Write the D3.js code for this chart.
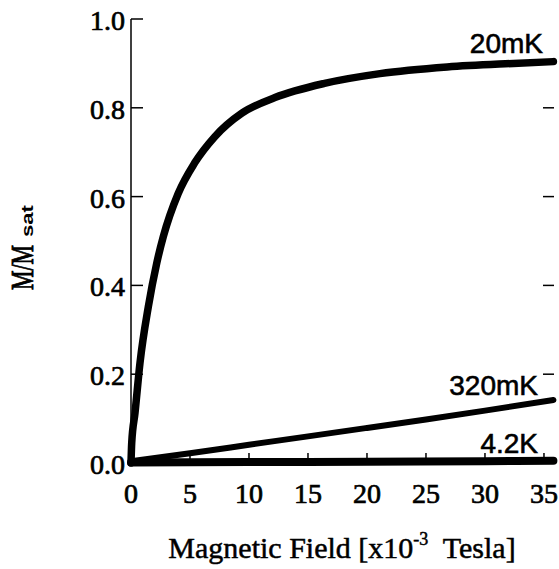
<!DOCTYPE html>
<html>
<head>
<meta charset="utf-8">
<script src="https://cdn.jsdelivr.net/npm/d3@7"></script>
<style>
  body { margin: 0; background: #fff; }
  svg { display: block; }
</style>
</head>
<body>
<div id="chart"></div>
<script>
// values (field in 1e-3 Tesla, M/Msat)
var field20mK = [0, 0.06, 0.34, 0.76, 1.47, 2.18, 2.74, 4.0, 5.4, 7.1, 9.4, 12.2, 16.4, 21.1, 26.8, 32.4, 35.8];
var mag20mK = [0, 0.045, 0.113, 0.225, 0.352, 0.45, 0.51, 0.607, 0.676, 0.735, 0.788, 0.823, 0.855, 0.877, 0.892, 0.9, 0.904];

var field320mK = [0, 5, 10, 15, 20, 25, 30, 35.8];
var mag320mK = [0.004, 0.022, 0.041, 0.06, 0.079, 0.098, 0.118, 0.142];

var field4K = [0, 10, 20, 30, 35.8];
var mag4K = [0.001, 0.002, 0.003, 0.004, 0.005];

var xTicks = [0, 5, 10, 15, 20, 25, 30, 35];
var yTicks = [0, 0.2, 0.4, 0.6, 0.8, 1.0];
var rightTicks = [0.2, 0.4, 0.6, 0.8];

var series = [
  { name: "20mK", x: field20mK, y: mag20mK, width: 7.5 },
  { name: "320mK", x: field320mK, y: mag320mK, width: 6 },
  { name: "4.2K", x: field4K, y: mag4K, width: 8 }
];

var width = 559, height = 569;
var serif = "'Liberation Serif', 'Times New Roman', serif";
var sans = "'Liberation Sans', Arial, sans-serif";

var svg = d3.select("#chart")
  .append("svg")
  .attr("width", width)
  .attr("height", height);

var x = d3.scaleLinear().domain([0, 35.85]).range([131, 554]);
var y = d3.scaleLinear().domain([0, 1]).range([463, 19]);

// left axis line + inward ticks
svg.append("line")
  .attr("x1", x(0)).attr("x2", x(0))
  .attr("y1", y(1)).attr("y2", y(0))
  .attr("stroke", "#000").attr("stroke-width", 1.5);

svg.selectAll(".ytick").data(yTicks).enter()
  .append("line")
  .attr("x1", x(0)).attr("x2", x(0) + 12)
  .attr("y1", function (d) { return y(d); })
  .attr("y2", function (d) { return y(d); })
  .attr("stroke", "#000").attr("stroke-width", 1.5);

// scanned text looks heavy, a thin stroke thickens the glyphs a bit
function heavy(sel, w) {
  sel.attr("stroke", "#000").attr("stroke-width", w).attr("fill", "#000");
}

svg.selectAll(".ylab").data(yTicks).enter()
  .append("text")
  .attr("x", 125)
  .attr("y", function (d) { return y(d) + 11; })
  .attr("text-anchor", "end")
  .style("font-family", serif)
  .style("font-size", "28px")
  .call(heavy, 0.7)
  .text(function (d) { return d.toFixed(1); });

// right side ticks (no axis line visible)
svg.selectAll(".rtick").data(rightTicks).enter()
  .append("line")
  .attr("x1", x.range()[1] - 11).attr("x2", x.range()[1])
  .attr("y1", function (d) { return y(d); })
  .attr("y2", function (d) { return y(d); })
  .attr("stroke", "#000").attr("stroke-width", 1.5);

// bottom axis
svg.append("line")
  .attr("x1", x(0)).attr("x2", x.range()[1])
  .attr("y1", y(0)).attr("y2", y(0))
  .attr("stroke", "#000").attr("stroke-width", 1.5);

svg.selectAll(".xtick").data(xTicks).enter()
  .append("line")
  .attr("x1", function (d) { return x(d); })
  .attr("x2", function (d) { return x(d); })
  .attr("y1", y(0)).attr("y2", y(0) - 10)
  .attr("stroke", "#000").attr("stroke-width", 1.5);

svg.selectAll(".xlab").data(xTicks).enter()
  .append("text")
  .attr("x", function (d) { return x(d); })
  .attr("y", 503)
  .attr("text-anchor", "middle")
  .style("font-family", serif)
  .style("font-size", "28px")
  .call(heavy, 0.7)
  .text(function (d) { return d; });

// curves
var line = d3.line()
  .x(function (d) { return x(d[0]); })
  .y(function (d) { return y(d[1]); })
  .curve(d3.curveMonotoneX);

series.forEach(function (s) {
  var pts = s.x.map(function (v, i) { return [v, s.y[i]]; });
  svg.append("path")
    .datum(pts)
    .attr("d", line)
    .attr("fill", "none")
    .attr("stroke", "#000")
    .attr("stroke-width", s.width)
    .attr("stroke-linecap", "round")
    .attr("stroke-linejoin", "round");
});

// curve labels
var labels = [
  { text: "20mK", x: 543, y: 53 },
  { text: "320mK", x: 538, y: 395 },
  { text: "4.2K", x: 538, y: 453 }
];
svg.selectAll(".clab").data(labels).enter()
  .append("text")
  .attr("x", function (d) { return d.x; })
  .attr("y", function (d) { return d.y; })
  .attr("text-anchor", "end")
  .style("font-family", sans)
  .style("font-size", "28px")
  .call(heavy, 0.6)
  .text(function (d) { return d.text; });

// x axis title
var xt = svg.append("text")
  .attr("x", 342)
  .attr("y", 558)
  .attr("text-anchor", "middle")
  .style("font-family", serif)
  .style("font-size", "30px")
  .call(heavy, 0.5);
xt.append("tspan").text("Magnetic Field [x10");
xt.append("tspan").attr("dy", -13).style("font-size", "18px").text("-3");
xt.append("tspan").attr("dy", 13).text("\u00a0 Tesla]");

// y axis title: M/M with subscript sat
svg.append("text")
  .attr("transform", "translate(33,290) rotate(-90)")
  .attr("textLength", 45)
  .attr("lengthAdjust", "spacingAndGlyphs")
  .style("font-family", serif)
  .style("font-size", "31px")
  .call(heavy, 0.9)
  .text("M/M");
svg.append("text")
  .attr("transform", "translate(33,237) rotate(-90)")
  .attr("textLength", 32)
  .attr("lengthAdjust", "spacingAndGlyphs")
  .style("font-family", sans)
  .style("font-weight", "bold")
  .style("font-size", "17px")
  .text("sat");
</script>
</body>
</html>
